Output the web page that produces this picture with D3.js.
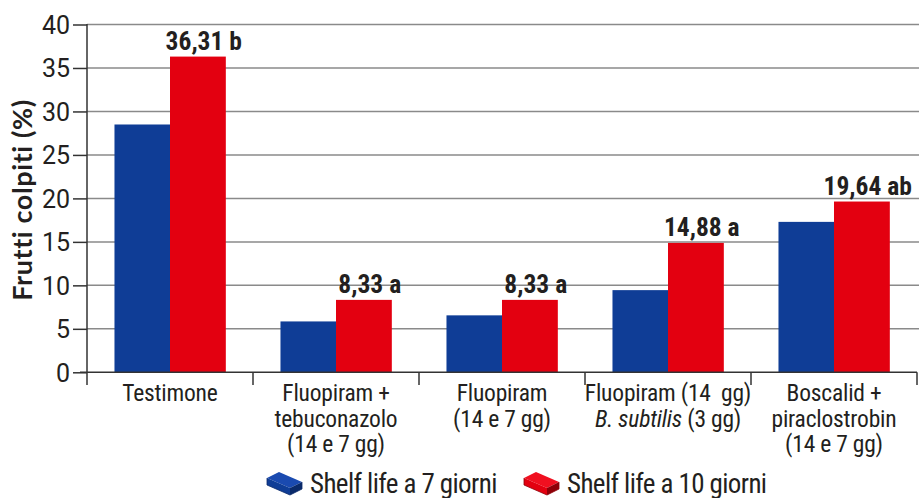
<!DOCTYPE html>
<html><head><meta charset="utf-8">
<script src="https://cdn.jsdelivr.net/npm/d3@7"></script>
<style>
body{margin:0;background:#fff;}
svg{display:block;}
text{font-family:"Liberation Sans Narrow","Arial Narrow","Roboto Condensed",Roboto,sans-serif;fill:#231f20;white-space:pre;}
</style></head>
<body>
<svg id="c" width="919" height="498"></svg>
<script>
const categories = ["Testimone","Fluopiram + tebuconazolo","Fluopiram","Fluopiram + B. subtilis","Boscalid + piraclostrobin"];
const categoryLines = [
  [[{t:"Testimone"}]],
  [[{t:"Fluopiram +"}],[{t:"tebuconazolo"}],[{t:"(14 e 7 gg)"}]],
  [[{t:"Fluopiram"}],[{t:"(14 e 7 gg)"}]],
  [[{t:"Fluopiram (14  gg)"}],[{t:"B. subtilis",i:true},{t:" (3 gg)"}]],
  [[{t:"Boscalid +"}],[{t:"piraclostrobin"}],[{t:"(14 e 7 gg)"}]]
];
const shelf7 = [28.5, 5.85, 6.55, 9.45, 17.3];
const shelf10 = [36.31, 8.33, 8.33, 14.88, 19.64];
const labels10 = ["36,31 b","8,33 a","8,33 a","14,88 a","19,64 ab"];
const yTicks = [0,5,10,15,20,25,30,35,40];
const seriesNames = ["Shelf life a 7 giorni","Shelf life a 10 giorni"];
const colors = ["#0f3d96","#e30010"];
const darkColors = ["#0a2a6a","#8e0008"];
const topColors = ["#1a4ab0","#f01020"];

const svg = d3.select("#c");
const x0 = d3.scaleBand().domain(categories).range([87, 917]).paddingInner(0).paddingOuter(0);
const x1 = d3.scaleBand().domain([0,1]).range([0, x0.bandwidth()]).paddingOuter(0.495).paddingInner(0);
const y = d3.scaleLinear().domain([0,40]).range([372.3, 24.5]);

// gridlines
svg.append("g").selectAll("line").data(yTicks.filter(d=>d>0)).join("line")
  .attr("x1",87).attr("x2",919).attr("y1",d=>y(d)).attr("y2",d=>y(d))
  .attr("stroke","#8a8a8a").attr("stroke-width",1.5);

// bars
const g = svg.append("g");
categories.forEach((c,i)=>{
  [shelf7[i], shelf10[i]].forEach((v,s)=>{
    g.append("rect").attr("x",x0(c)+x1(s)).attr("width",x1.bandwidth()+0.3)
      .attr("y",y(v)).attr("height",y(0)-y(v)).attr("fill",colors[s]);
  });
  g.append("text").attr("x",x0(c)+x1(1)+x1.bandwidth()/2+6).attr("y",y(shelf10[i])-7)
    .attr("text-anchor","middle").attr("font-size",25.5).attr("font-weight","bold")
    .text(labels10[i]);
});

// y axis
const yAxis = d3.axisLeft(y).tickValues(yTicks).tickSize(14).tickPadding(3);
const ya = svg.append("g").attr("transform","translate(87,0)").call(yAxis);
ya.select(".domain").remove();
ya.selectAll(".tick line").attr("stroke","#333").attr("stroke-width",1.5);
ya.selectAll(".tick text").attr("font-size",25).attr("fill","#231f20")
  .style("font-family",'"Liberation Sans Narrow","Arial Narrow",Roboto,sans-serif').attr("dy","0.36em");
svg.append("line").attr("x1",87).attr("x2",87).attr("y1",24).attr("y2",385).attr("stroke","#333").attr("stroke-width",1.5);

// x axis
svg.append("line").attr("x1",80).attr("x2",917).attr("y1",y(0)).attr("y2",y(0)).attr("stroke","#333").attr("stroke-width",1.5);
const bounds = categories.map(c=>x0(c)).concat([x0.range()[1]]);
svg.append("g").selectAll("line").data(bounds.slice(1)).join("line")
  .attr("x1",d=>d).attr("x2",d=>d).attr("y1",y(0)).attr("y2",385).attr("stroke","#333").attr("stroke-width",1.5);

// category labels
categories.forEach((c,i)=>{
  const t = svg.append("text").attr("text-anchor","middle").attr("font-size",23.5).attr("letter-spacing",-0.2);
  categoryLines[i].forEach((line,li)=>{
    const ts = t.append("tspan").attr("x",x0(c)+x0.bandwidth()/2).attr("y",401+li*25.5);
    line.forEach(seg=>{
      ts.append("tspan").attr("font-style",seg.i?"italic":null).text(seg.t);
    });
  });
});

// y title
svg.append("text").attr("transform","translate(32,200) rotate(-90)").attr("text-anchor","middle")
  .style("font-family","Lato, 'Open Sans', sans-serif")
  .attr("font-size",27).attr("letter-spacing",0.6).attr("font-weight","bold").text("Frutti colpiti (%)");

// legend
const legX = [267, 524];
seriesNames.forEach((n,s)=>{
  const lx = legX[s], ly = 472;
  const lg = svg.append("g").attr("transform",`translate(${lx},${ly})`);
  lg.append("path").attr("d","M0,6 L12,0 L35,10 L23,16 Z").attr("fill",topColors[s]);
  lg.append("path").attr("d","M0,6 L23,16 L23,23 L0,13 Z").attr("fill",colors[s]);
  lg.append("path").attr("d","M23,16 L35,10 L35,17 L23,23 Z").attr("fill",darkColors[s]);
  lg.append("path").attr("d","M0,6 L0,13 L23,23 L35,17 L35,10").attr("fill","none").attr("stroke",darkColors[s]).attr("stroke-width",0.8);
  svg.append("text").attr("x",lx+43).attr("y",493).attr("font-size",27).attr("letter-spacing",-0.6).text(n);
});
</script>
</body></html>
